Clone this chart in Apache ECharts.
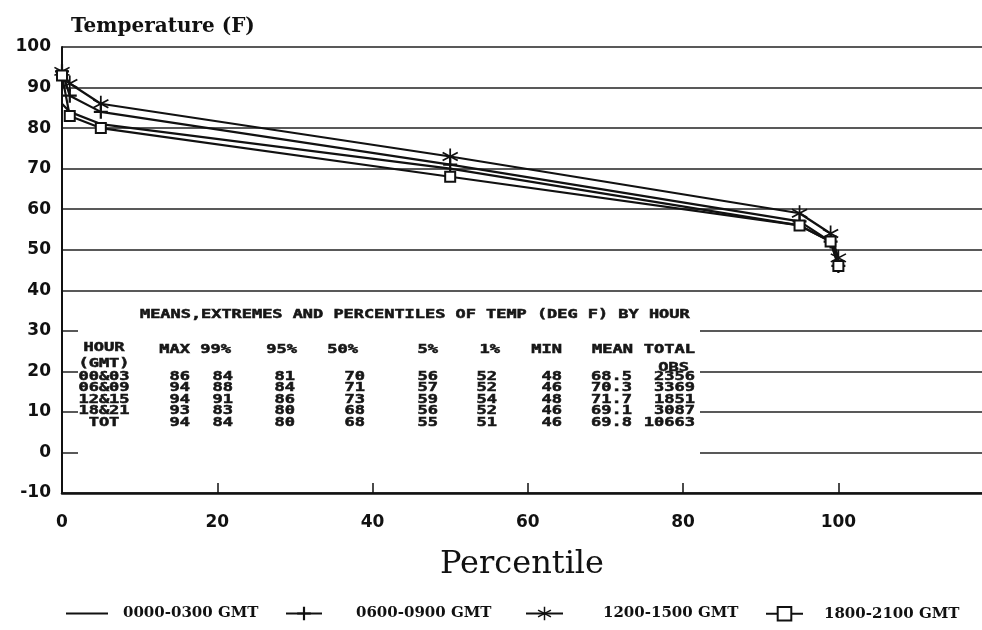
<!DOCTYPE html>
<html><head><meta charset="utf-8">
<script src="https://cdn.jsdelivr.net/npm/echarts@6/dist/echarts.min.js"></script>
<style>html,body{margin:0;padding:0;background:#fff}#c{width:982px;height:630px}</style>
</head><body><div id="c"></div>
<script>
const percentiles = [0, 1, 5, 50, 95, 99, 100];
const seriesNames = ['0000-0300 GMT', '0600-0900 GMT', '1200-1500 GMT', '1800-2100 GMT'];
const temp0000 = [86, 84, 81, 70, 56, 52, 48];
const temp0600 = [94, 88, 84, 71, 57, 52, 46];
const temp1200 = [94, 91, 86, 73, 59, 54, 48];
const temp1800 = [93, 83, 80, 68, 56, 52, 46];
const tempTot = [94, 84, 80, 68, 55, 51, 46];
const hourLabels = ['00&03', '06&09', '12&15', '18&21', 'TOT'];
const meanVals = ['68.5', '70.3', '71.7', '69.1', '69.8'];
const totalObs = ['2356', '3369', '1851', '3087', '10663'];
const tableHeaders = ['MAX', '99%', '95%', '50%', '5%', '1%', 'MIN', 'MEAN', 'TOTAL'];
const tableTitle = 'MEANS,EXTREMES AND PERCENTILES OF TEMP (DEG F) BY HOUR';
const xTickLabels = [0, 20, 40, 60, 80, 100];
const xTickMarks = [20, 40, 60, 80, 100];

const plusPath = 'path://M4.2,0H5.8V4.2H10V5.8H5.8V10H4.2V5.8H0V4.2H4.2Z';
const starPath = 'path://M9,0H11V20H9Z M1.84,4.13L19.16,14.13L18.16,15.87L0.84,5.87Z M18.16,4.13L19.16,5.87L1.84,15.87L0.84,14.13Z';

const chart = echarts.init(document.getElementById('c'), null, {renderer: 'canvas'});

function mk(arr) { return percentiles.map((p, i) => [p, arr[i]]); }

// table layout
const colRight = [190, 233, 295, 365, 438, 497, 562, 632, 695];
const headRight = [190, 231, 297, 358, 438, 500, 562, 633, 695];
const rowY = [377, 388.5, 400, 411.5, 423];
const tableFont = {fontFamily: 'DejaVu Sans Mono', fontWeight: 'bold', fontSize: 11.5};

function txt(x, y, s, align, sx) {
  return {
    type: 'text', x: x, y: y, z: 10, scaleX: sx || 1.48,
    style: Object.assign({text: s, x: 0, y: 0, textAlign: align, align: align,
      textVerticalAlign: 'middle', verticalAlign: 'middle', fill: '#161616',
      stroke: '#161616', lineWidth: 0.5}, tableFont)
  };
}

const graphics = [
  {type: 'rect', z: 1, shape: {x: 78, y: 300, width: 622, height: 165}, style: {fill: '#fff'}}
];
graphics.push(txt(140, 315, tableTitle, 'left', 1.47));
graphics.push(txt(104, 348, 'HOUR', 'center'));
graphics.push(txt(104, 364, '(GMT)', 'center'));
tableHeaders.forEach((h, j) => graphics.push(txt(headRight[j], 350, h, 'right')));
graphics.push(txt(689, 368, 'OBS', 'right'));
const tableRows = [temp0000, temp0600, temp1200, temp1800, tempTot];
tableRows.forEach((row, i) => {
  graphics.push(txt(104, rowY[i], hourLabels[i], 'center'));
  row.forEach((v, j) => graphics.push(txt(colRight[j], rowY[i], String(v), 'right')));
  graphics.push(txt(colRight[7], rowY[i], meanVals[i], 'right'));
  graphics.push(txt(colRight[8], rowY[i], totalObs[i], 'right'));
});

const legendFont = {fontFamily: 'DejaVu Serif', fontWeight: 'bold', fontSize: 15, color: '#111'};
function leg(name, left, w, pad, extra) {
  return Object.assign({
    data: [name], left: left, top: 601, itemWidth: w, itemHeight: 17,
    textStyle: Object.assign({padding: [0, 0, 0, pad]}, legendFont),
    selectedMode: false
  }, extra || {});
}

const lineStyle = {color: '#111', width: 2.2};
const option = {
  backgroundColor: '#fff',
  animation: false,
  title: {
    text: 'Temperature (F)', left: 66, top: 12,
    textStyle: {fontFamily: 'DejaVu Serif', fontWeight: 'bold', fontSize: 20, color: '#111'}
  },
  grid: {left: 62, right: 0, top: 47, bottom: 137, containLabel: false},
  legend: [
    leg(seriesNames[0], 60, 42, 10, {itemStyle: {opacity: 0}}),
    leg(seriesNames[1], 280, 36, 29),
    leg(seriesNames[2], 520, 37, 35),
    leg(seriesNames[3], 760, 37, 16)
  ],
  xAxis: {
    type: 'value', min: 0, max: 118.5,
    name: 'Percentile', nameLocation: 'middle', nameGap: 56,
    nameTextStyle: {fontFamily: 'DejaVu Serif', fontSize: 32, color: '#111'},
    axisLine: {show: true, onZero: false, lineStyle: {color: '#111', width: 2.5}},
    axisTick: {show: true, inside: true, length: 10, customValues: xTickMarks, lineStyle: {color: '#111', width: 1.5}},
    axisLabel: {customValues: xTickLabels, margin: 21, fontFamily: 'DejaVu Sans', fontWeight: 'bold', fontSize: 17, color: '#111'},
    splitLine: {show: false}
  },
  yAxis: {
    type: 'value', min: -10, max: 100, interval: 10,
    axisLine: {show: true, lineStyle: {color: '#111', width: 2}},
    axisTick: {show: false},
    axisLabel: {margin: 11, fontFamily: 'DejaVu Sans', fontWeight: 'bold', fontSize: 17, color: '#111'},
    splitLine: {show: true, lineStyle: {color: '#222', width: 1.6}}
  },
  graphic: graphics,
  series: [
    {name: seriesNames[0], type: 'line', data: mk(temp0000), symbol: 'none', lineStyle: lineStyle, itemStyle: {color: '#111'}, z: 3},
    {name: seriesNames[1], type: 'line', data: mk(temp0600), symbol: plusPath, symbolSize: 14, lineStyle: lineStyle, itemStyle: {color: '#111'}, z: 3},
    {name: seriesNames[2], type: 'line', data: mk(temp1200), symbol: starPath, symbolSize: 16, lineStyle: lineStyle, itemStyle: {color: '#111'}, z: 3},
    {name: seriesNames[3], type: 'line', data: mk(temp1800), symbol: 'emptyRect', symbolSize: 10, lineStyle: lineStyle, itemStyle: {color: '#111', borderColor: '#111', borderWidth: 1.8}, z: 3}
  ]
};
chart.setOption(option);
</script></body></html>
